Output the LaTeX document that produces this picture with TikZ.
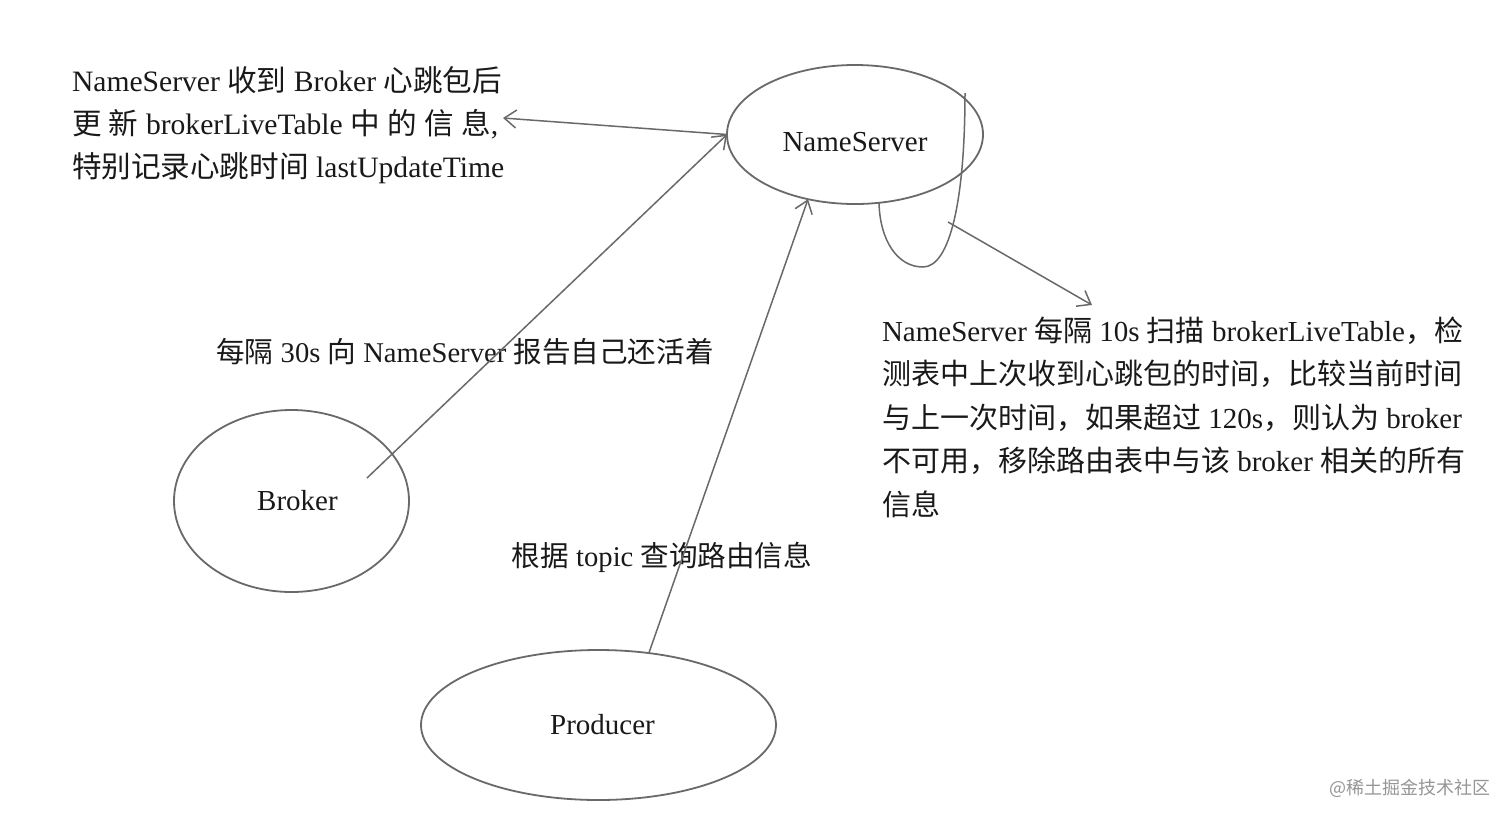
\documentclass[tikz,border=0pt]{standalone}
\usepackage{fontspec}
\setmainfont{Liberation Serif}
\newfontfamily\cjk{Noto Sans CJK SC}
\usetikzlibrary{shapes.geometric,arrows.meta}
\definecolor{linecol}{RGB}{105,105,105}
\definecolor{txtcol}{RGB}{25,25,25}
\definecolor{wmcol}{RGB}{150,150,150}
\newcommand{\zh}[1]{{\cjk #1}}
\begin{document}
\begin{tikzpicture}[x=0.5pt,y=-0.5pt,
  oval/.style={ellipse, draw=linecol, line width=0.9pt, inner sep=0pt, outer sep=0pt, text=txtcol, font=\fontsize{14.5pt}{17pt}\selectfont},
  lbl/.style={inner sep=0pt, outer sep=0pt, text=txtcol, font=\fontsize{14.3pt}{17pt}\selectfont},
  tlbl/.style={lbl, anchor=west, font=\fontsize{14.8pt}{17pt}\selectfont},
  rlbl/.style={lbl, anchor=west, font=\fontsize{14.5pt}{17pt}\selectfont},
  conn/.style={draw=linecol, line width=0.75pt},
  arr/.style={conn, -{Straight Barb[length=6pt,width=9pt]}},
]
\useasboundingbox (0,0) rectangle (1512,821);
\fill[white] (0,0) rectangle (1512,821);

% ellipses
\node[oval, minimum width=128pt, minimum height=69.5pt, text height=17.4pt, text depth=0pt] (ns) at (855,134.5) {NameServer};
\node[oval, minimum width=117.5pt, minimum height=91pt] (br) at (291.5,501) {\hspace*{6pt}Broker};
\node[oval, minimum width=177.5pt, minimum height=75pt] (pr) at (598.5,725) {\hspace*{4pt}Producer};

% top-left text
\node[tlbl] (tl1) at (72,80) {NameServer \zh{收到} Broker \zh{心跳包后}};
\node[tlbl] (tl2) at (72,124) {\zh{更}\ \zh{新} brokerLiveTable \zh{中}\ \zh{的}\ \zh{信}\ \zh{息},};
\node[tlbl] (tl3) at (72,168) {\zh{特别记录心跳时间} lastUpdateTime};
\coordinate (tlarrow) at (503,118);

% middle texts
\node[lbl] (m1) at (465,352) {\zh{每隔} 30s \zh{向} NameServer \zh{报告自己还活着}};
\node[lbl] (m2) at (662,557) {\zh{根据} topic \zh{查询路由信息}};

% right text
\node[rlbl] (rt1) at (882,331) {NameServer \zh{每隔} 10s \zh{扫描} brokerLiveTable\zh{，检}};
\node[rlbl] (rt2) at (882,374) {\zh{测表中上次收到心跳包的时间，比较当前时间}};
\node[rlbl] (rt3) at (882,418) {\zh{与上一次时间，如果超过} 120s\zh{，则认为} broker};
\node[rlbl] (rt4) at (882,461) {\zh{不可用，移除路由表中与该} broker \zh{相关的所有}};
\node[rlbl] (rt5) at (882,504) {\zh{信息}};

% watermark
\node[inner sep=0pt, font=\cjk\fontsize{9pt}{11pt}\selectfont, text=wmcol] (wm) at (1410,788) {@稀土掘金技术社区};

% connectors
\coordinate (bstart) at (367,478);
\draw[arr] (bstart) -- (ns.west);
\draw[arr] (ns.west) -- (tlarrow);
\draw[arr] (pr.55) -- (ns.234);

% self loop
\coordinate (l0) at (965,93);
\coordinate (l1) at (879,203);
\draw[conn] (l0) .. controls (965,200) and (950,267) .. (923,267) .. controls (897,267) and (880,240) .. (l1);
\coordinate (lm) at (948,222);
\coordinate (rtip) at (1092,305);
\draw[arr] (lm) -- (rtip);
\end{tikzpicture}
\end{document}
